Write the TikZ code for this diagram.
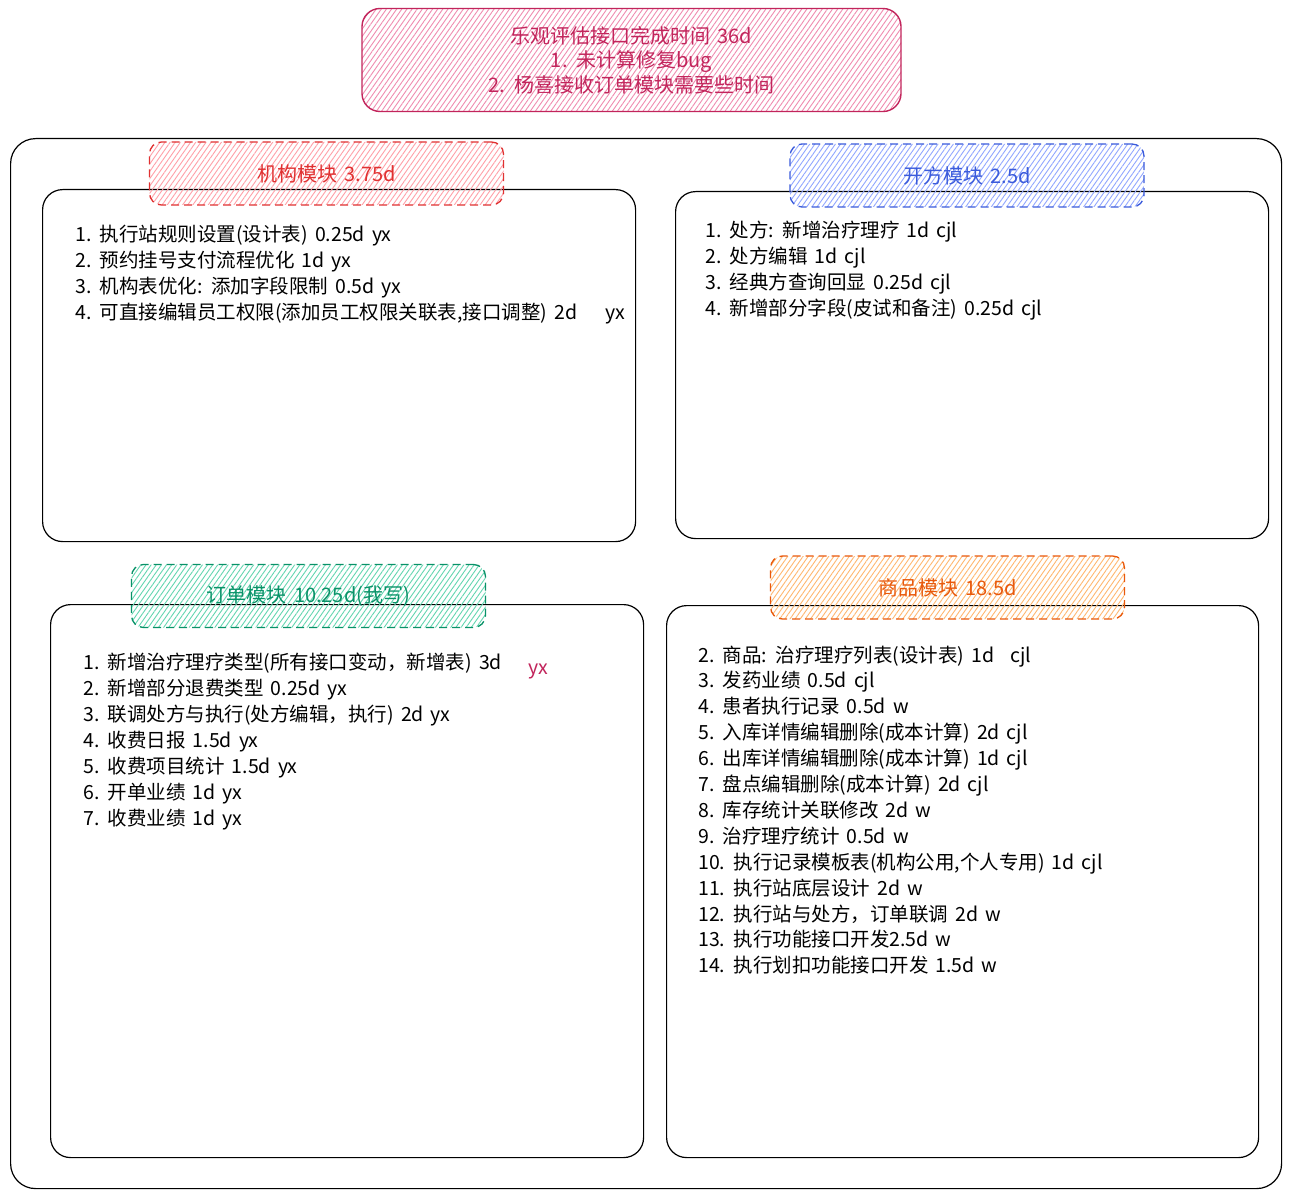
\documentclass[tikz,border=0pt]{standalone}
\usepackage{fontspec}
\setmainfont{Noto Sans CJK SC}[WordSpace=1.6]
\usepackage{xcolor}
\usetikzlibrary{patterns.meta}

\definecolor{titleInk}{HTML}{C2255C}
\definecolor{titleHatch}{HTML}{F08CB0}
\definecolor{jgInk}{HTML}{E03131}
\definecolor{jgHatch}{HTML}{FFA0A8}
\definecolor{kfInk}{HTML}{3B5BDB}
\definecolor{kfHatch}{HTML}{91A7FF}
\definecolor{ddInk}{HTML}{099268}
\definecolor{ddHatch}{HTML}{63D6B0}
\definecolor{spInk}{HTML}{E8590C}
\definecolor{spHatch}{HTML}{FFB870}

\begin{document}
\begin{tikzpicture}[x=1pt, y=-1pt,
    panel/.style={draw=black, line width=1.2pt, rounded corners=20pt, anchor=north west, inner sep=0pt},
    header/.style={draw=#1Ink, text=#1Ink, line width=1.3pt, dash pattern=on 8pt off 5pt,
        rounded corners=12pt, inner sep=0pt, minimum width=354pt, minimum height=63pt,
        pattern={Lines[angle=55,distance=4.2pt,line width=0.9pt]}, pattern color=#1Hatch,
        font=\fontsize{20pt}{24pt}\selectfont},
    item/.style={anchor=base west, inner sep=0pt, font=\fontsize{19.5pt}{26pt}\selectfont}]
    \useasboundingbox (0,0) rectangle (1291,1198);
    \fill[white] (0,0) rectangle (1291,1198);

    % title
    \node[draw=titleInk, text=titleInk, line width=1.4pt, rounded corners=18pt,
        minimum width=539pt, minimum height=103pt, inner sep=0pt, align=center,
        pattern={Lines[angle=55,distance=4.2pt,line width=0.9pt]}, pattern color=titleHatch,
        font=\fontsize{20pt}{24.5pt}\selectfont] (title) at (631.5,60)
        {乐观评估接口完成时间 36d\\1. 未计算修复bug\\2. 杨喜接收订单模块需要些时间};

    % outer frame and panels
    \node[panel, rounded corners=25pt, minimum width=1271pt, minimum height=1050pt] (frame) at (10,138) {};
    \node[panel, minimum width=593pt, minimum height=352pt] (jg-panel) at (42,189) {};
    \node[panel, minimum width=593pt, minimum height=347pt] (kf-panel) at (675,191) {};
    \node[panel, minimum width=593pt, minimum height=553pt] (dd-panel) at (50,604) {};
    \node[panel, minimum width=592pt, minimum height=552pt] (sp-panel) at (666,605) {};

    % module headers
    \node[header=jg] (jg-head) at (326.5,173.5) {机构模块 3.75d};
    \node[header=kf] (kf-head) at (967,175.5) {开方模块 2.5d};
    \node[header=dd] (dd-head) at (308.5,596) {订单模块 10.25d(我写)};
    \node[header=sp] (sp-head) at (947.5,587.5) {商品模块 18.5d};

    % task lists
    \foreach \t [count=\i] in {1. 执行站规则设置(设计表) 0.25d yx,
        2. 预约挂号支付流程优化 1d yx,
        3. 机构表优化: 添加字段限制 0.5d yx,
        {4. 可直接编辑员工权限(添加员工权限关联表,接口调整) 2d\hspace{28pt}yx}}
        \node[item] (jg\i) at (75,242+25.7*\i-25.7) {\t};

    \foreach \t [count=\i] in {1. 处方: 新增治疗理疗 1d cjl,
        2. 处方编辑 1d cjl,
        3. 经典方查询回显 0.25d cjl,
        4. 新增部分字段(皮试和备注) 0.25d cjl}
        \node[item] (kf\i) at (705,238+26*\i-26) {\t};

    \foreach \t [count=\i] in {1. 新增治疗理疗类型(所有接口变动，新增表) 3d,
        2. 新增部分退费类型 0.25d yx,
        3. 联调处方与执行(处方编辑，执行) 2d yx,
        4. 收费日报 1.5d yx,
        5. 收费项目统计 1.5d yx,
        6. 开单业绩 1d yx,
        7. 收费业绩 1d yx}
        \node[item] (dd\i) at (83,669+26*\i-26) {\t};
    \node[item, text=titleInk] (dd-yx) at (528,674) {yx};

    \foreach \t [count=\i] in {2. 商品: 治疗理疗列表(设计表) 1d\hspace{16pt}cjl,
        3. 发药业绩 0.5d cjl,
        4. 患者执行记录 0.5d w,
        5. 入库详情编辑删除(成本计算) 2d cjl,
        6. 出库详情编辑删除(成本计算) 1d cjl,
        7. 盘点编辑删除(成本计算) 2d cjl,
        8. 库存统计关联修改 2d w,
        9. 治疗理疗统计 0.5d w,
        {10. 执行记录模板表(机构公用,个人专用) 1d cjl},
        11. 执行站底层设计 2d w,
        12. 执行站与处方，订单联调 2d w,
        13. 执行功能接口开发2.5d w,
        14. 执行划扣功能接口开发 1.5d w}
        \node[item] (sp\i) at (698,662+25.9*\i-25.9) {\t};
\end{tikzpicture}
\end{document}
